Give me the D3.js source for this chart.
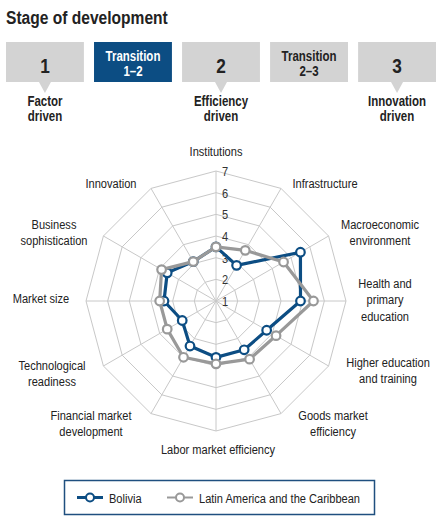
<!DOCTYPE html>
<html>
<head>
<meta charset="utf-8">
<script src="https://cdn.jsdelivr.net/npm/d3@7"></script>
<style>
body{margin:0;background:#fff;}
text{font-family:"Liberation Sans",Arial,sans-serif;fill:#222;}
</style>
</head>
<body>
<svg id="chart"></svg>
<script>
var width = 445;
var height = 526;

// data
var pillars = ["Institutions","Infrastructure","Macroeconomic environment","Health and primary education",
  "Higher education and training","Goods market efficiency","Labor market efficiency",
  "Financial market development","Technological readiness","Market size",
  "Business sophistication","Innovation"];
var bolivia = [3.5, 2.9, 5.5, 4.9, 3.7, 3.6, 3.6, 3.4, 2.8, 3.4, 3.6, 3.1];
var latam   = [3.5, 3.7, 4.6, 5.5, 4.2, 4.1, 3.9, 4.0, 3.6, 3.6, 3.9, 3.1];
var ticks = [1,2,3,4,5,6,7];
var stages = [
  {top:["1"], big:true, bottom:["Factor","driven"]},
  {top:["Transition","1–2"], big:false, bottom:null, active:true},
  {top:["2"], big:true, bottom:["Efficiency","driven"]},
  {top:["Transition","2–3"], big:false, bottom:null},
  {top:["3"], big:true, bottom:["Innovation","driven"]}
];
// label lines per pillar (as typeset in the figure)
var labelLines = [["Institutions"],["Infrastructure"],["Macroeconomic","environment"],["Health and","primary","education"],
  ["Higher education","and training"],["Goods market","efficiency"],["Labor market efficiency"],
  ["Financial market","development"],["Technological","readiness"],["Market size"],
  ["Business","sophistication"],["Innovation"]];

var blue = "#0c4d83";
var grey = "#999999";
var narrow = 0.82; // condensed look

var svg = d3.select("#chart").attr("width",width).attr("height",height);

// text helper: lines of condensed text at x,y
function label(parent,x,y,lines,size,opts){
  opts = opts||{};
  var t = parent.append("text")
    .attr("transform","translate("+x+","+y+") scale("+narrow+",1)")
    .attr("text-anchor",opts.anchor||"middle")
    .style("font-size",size+"px")
    .style("font-weight",opts.bold?"bold":"normal");
  if(opts.fill) t.style("fill",opts.fill);
  t.selectAll("tspan").data(lines).enter().append("tspan")
    .attr("x",0).attr("dy",(s,j)=>j?(opts.lh||16.3):0).text(s=>s);
  return t;
}

label(svg,6,24,["Stage of development"],19,{anchor:"start",bold:true});

// stage boxes
var boxX = d3.scaleBand().domain(d3.range(stages.length)).range([6,436]).paddingInner(0.115).paddingOuter(0);
var boxes = svg.selectAll(".stage").data(stages).enter().append("g")
  .attr("transform",(d,i)=>"translate("+boxX(i)+",42)");
boxes.append("rect").attr("width",boxX.bandwidth()).attr("height",40)
  .attr("fill",d=>d.active?"#0c4d83":"#d3d3d3");
boxes.filter(d=>d.bottom).append("path")
  .attr("d",()=>{var c=boxX.bandwidth()/2;return "M"+(c-6)+",40L"+c+",51L"+(c+6)+",40Z";})
  .attr("fill","#d3d3d3");
boxes.each(function(d){
  var g = d3.select(this), c = boxX.bandwidth()/2;
  if(d.big){
    label(g,c,30.5,d.top,21,{bold:true});
  }else{
    label(g,c,18.5,d.top,14,{bold:true,lh:15.3,fill:d.active?"#fff":"#222"});
  }
  if(d.bottom){
    label(g,c,63.5,d.bottom,14,{bold:true,lh:15.3});
  }
});

// radar
var cx = 216, cy = 301, R = 130;
var r = d3.scaleLinear().domain([1,7]).range([0,R]);
var angle = d3.scaleLinear().domain([0,pillars.length]).range([0,2*Math.PI]);
function pt(i,v){var a=angle(i);return [cx+r(v)*Math.sin(a), cy-r(v)*Math.cos(a)];}

var grid = svg.append("g");
ticks.slice(1).forEach(t=>{
  grid.append("path")
    .attr("d",d3.line()(pillars.map((p,i)=>pt(i,t)))+"Z")
    .attr("fill","none").attr("stroke","#c8c8c8").attr("stroke-width",1);
});
grid.selectAll("line").data(pillars).enter().append("line")
  .attr("x1",cx).attr("y1",cy)
  .attr("x2",(d,i)=>pt(i,7)[0]).attr("y2",(d,i)=>pt(i,7)[1])
  .attr("stroke","#c8c8c8").attr("stroke-width",1);

ticks.forEach(t=>label(svg,cx+6,cy-r(t)+5,[String(t)],13.5,{anchor:"start",fill:"#333"}));

// pillar labels
var labelPos = [[216,156],[325,187.5],[380,229],[385,288],[388,366.5],[333,420],[218,454],[91,420],[52,369.5],[41,303],[54,229],[111,187.5]];
labelLines.forEach((lines,i)=>label(svg,labelPos[i][0],labelPos[i][1],lines,13.5));

// series
function drawSeries(vals,color){
  var g = svg.append("g");
  g.append("path").attr("d",d3.line()(vals.map((v,i)=>pt(i,v)))+"Z")
    .attr("fill","none").attr("stroke",color).attr("stroke-width",3.2).attr("stroke-linejoin","round");
  g.selectAll("circle").data(vals).enter().append("circle")
    .attr("cx",(v,i)=>pt(i,v)[0]).attr("cy",(v,i)=>pt(i,v)[1]).attr("r",4.3)
    .attr("fill","#fff").attr("stroke",color).attr("stroke-width",2.2);
}
drawSeries(bolivia,blue);
drawSeries(latam,grey);

// legend
var legend = svg.append("g");
legend.append("rect").attr("x",64.5).attr("y",480.5).attr("width",310).attr("height",34)
  .attr("fill","#fff").attr("stroke","#1f4f7f").attr("stroke-width",1.5);
var items = [{name:"Bolivia",color:blue,x:77,w:3},{name:"Latin America and the Caribbean",color:grey,x:167,w:2}];
items.forEach(it=>{
  legend.append("line").attr("x1",it.x).attr("x2",it.x+26).attr("y1",497.5).attr("y2",497.5)
    .attr("stroke",it.color).attr("stroke-width",it.w);
  legend.append("circle").attr("cx",it.x+13).attr("cy",497.5).attr("r",4)
    .attr("fill","#fff").attr("stroke",it.color).attr("stroke-width",2);
  label(legend,it.x+32,502.5,[it.name],13.5,{anchor:"start"});
});
</script>
</body>
</html>
